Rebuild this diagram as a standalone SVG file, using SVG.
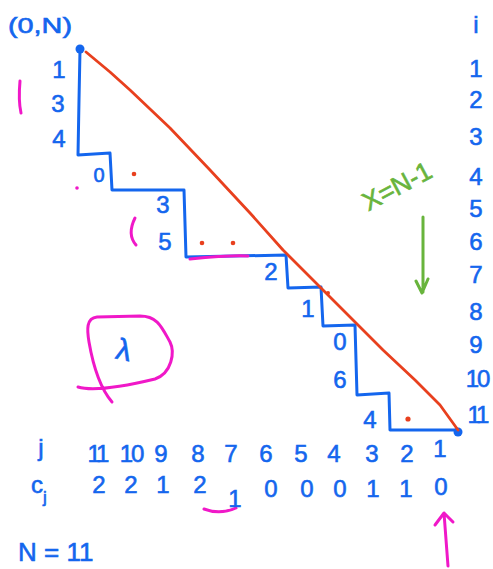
<svg xmlns="http://www.w3.org/2000/svg" width="493" height="569" viewBox="0 0 493 569">
<style>
.b{fill:#1466ee;font-family:"Liberation Sans",Arial,sans-serif;font-size:24px;text-anchor:middle;stroke:#1466ee;stroke-width:0.6}
.bl{fill:none;stroke:#1466ee;stroke-width:3;stroke-linecap:round;stroke-linejoin:round}
.r{fill:none;stroke:#e8401e;stroke-width:2.8;stroke-linecap:round;stroke-linejoin:round}
.m{fill:none;stroke:#f018c8;stroke-width:3;stroke-linecap:round;stroke-linejoin:round}
.g{fill:none;stroke:#68b43c;stroke-width:3;stroke-linecap:round;stroke-linejoin:round}
.rd{fill:#e8401e}
</style>
<rect width="493" height="569" fill="#fff"/>
<!-- staircase -->
<path class="bl" d="M80 50 L79 100 L78 155 L110 153 L112 190 L184 190 L186 257 L286 255 L288 288 L321 287 L323 326 L355 325 L357 395 L389 393 L390 430 L458 430"/>
<circle cx="80" cy="49" r="4.5" fill="#1466ee"/>
<circle cx="458" cy="432" r="4.5" fill="#1466ee"/>
<!-- red hypotenuse -->
<path class="r" d="M86 52 L110 72 L130 90 L170 128 L210 170 L250 213 L283 250 L330 297 L383 350 L415 380 L440 405 L458 430"/>
<circle class="rd" cx="134" cy="174" r="2.3"/>
<circle class="rd" cx="202" cy="243" r="2.3"/>
<circle class="rd" cx="233" cy="243" r="2.3"/>
<circle class="rd" cx="328" cy="293" r="2"/>
<circle class="rd" cx="408" cy="419" r="2.6"/>
<!-- magenta marks -->
<path class="m" d="M20 81 C19 92, 19 104, 21 113"/>
<circle cx="77" cy="188" r="1.8" fill="#f018c8"/>
<path class="m" d="M135 218 C130 228, 130 238, 136 245"/>
<path class="m" d="M190 259 C210 257, 230 255, 248 256"/>
<path class="m" d="M78 387 C95 392, 130 385, 155 379 C172 373, 175 352, 170 342 C162 328, 158 316, 140 316 L97 317 C86 318, 87 330, 89 342 C93 365, 100 388, 112 402"/>
<path class="m" d="M204 509 Q220 515 236 508"/>
<path class="m" d="M448 566 L444 513 M435 525 L444 513 L453 522"/>
<!-- green -->
<text x="397" y="195" transform="rotate(-28 397 186)" style="fill:#68b43c;font-family:'Liberation Sans',Arial,sans-serif;font-size:26px;text-anchor:middle;stroke:#68b43c;stroke-width:0.6">X=N-1</text>
<path class="g" d="M423 217 L423 292 M416 281 L422 293 L428 279"/>
<!-- lambda -->
<text class="b" x="124" y="360" transform="rotate(12 124 350)" style="font-size:30px">λ</text>
<!-- top label -->
<text class="b" x="8" y="33" textLength="64" lengthAdjust="spacingAndGlyphs" style="text-anchor:start;font-size:22px">(0,N)</text>
<!-- i column -->
<g>
<text class="b" x="476" y="33">i</text>
<text class="b" x="476" y="77">1</text>
<text class="b" x="476" y="108">2</text>
<text class="b" x="476" y="145">3</text>
<text class="b" x="476" y="185">4</text>
<text class="b" x="476" y="217">5</text>
<text class="b" x="476" y="250">6</text>
<text class="b" x="476" y="283">7</text>
<text class="b" x="476" y="320">8</text>
<text class="b" x="476" y="353">9</text>
<text class="b" x="477" y="387" letter-spacing="-2">10</text>
<text class="b" x="477" y="423" letter-spacing="-3">11</text>
</g>
<!-- staircase labels -->
<g>
<text class="b" x="59" y="78">1</text>
<text class="b" x="58" y="112">3</text>
<text class="b" x="59" y="147">4</text>
<text class="b" x="99" y="182" style="font-size:20px">0</text>
<text class="b" x="163" y="213">3</text>
<text class="b" x="165" y="250">5</text>
<text class="b" x="271" y="280">2</text>
<text class="b" x="308" y="317">1</text>
<text class="b" x="340" y="350">0</text>
<text class="b" x="340" y="388">6</text>
<text class="b" x="370" y="428">4</text>
</g>
<!-- j row -->
<g>
<text class="b" x="41" y="456">j</text>
<text class="b" x="97" y="462" letter-spacing="-3">11</text>
<text class="b" x="131" y="462" letter-spacing="-2">10</text>
<text class="b" x="161" y="462">9</text>
<text class="b" x="198" y="462">8</text>
<text class="b" x="231" y="462">7</text>
<text class="b" x="266" y="462">6</text>
<text class="b" x="301" y="462">5</text>
<text class="b" x="334" y="462">4</text>
<text class="b" x="372" y="462">3</text>
<text class="b" x="407" y="462">2</text>
<text class="b" x="440" y="457">1</text>
</g>
<!-- c_j row -->
<g>
<text class="b" x="37" y="493">c</text>
<text class="b" x="45" y="503" style="font-size:17px">j</text>
<text class="b" x="99" y="493">2</text>
<text class="b" x="131" y="493">2</text>
<text class="b" x="163" y="493">1</text>
<text class="b" x="200" y="493">2</text>
<text class="b" x="235" y="507">1</text>
<text class="b" x="271" y="497">0</text>
<text class="b" x="307" y="497">0</text>
<text class="b" x="340" y="497">0</text>
<text class="b" x="373" y="497">1</text>
<text class="b" x="406" y="497">1</text>
<text class="b" x="441" y="495">0</text>
</g>
<text class="b" x="18" y="561" style="text-anchor:start;font-size:26px">N = 11</text>
</svg>
